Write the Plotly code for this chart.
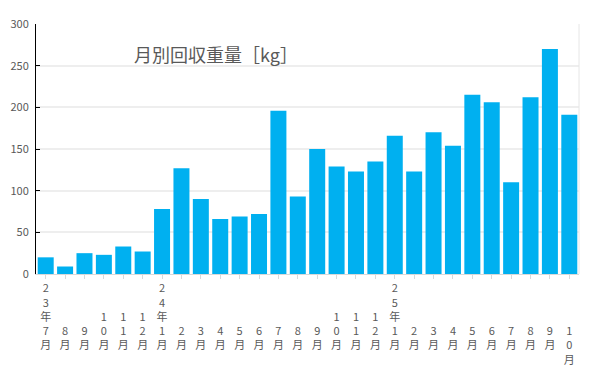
import plotly.graph_objects as go

months = ["23年7月", "8月", "9月", "10月", "11月", "12月",
          "24年1月", "2月", "3月", "4月", "5月", "6月", "7月", "8月", "9月", "10月", "11月", "12月",
          "25年1月", "2月", "3月", "4月", "5月", "6月", "7月", "8月", "9月", "10月"]
weights = [20, 9, 25, 23, 33, 27,
           78, 127, 90, 66, 69, 72, 196, 93, 150, 129, 123, 135,
           166, 123, 170, 154, 215, 206, 110, 212, 270, 191]
yticks = [0, 50, 100, 150, 200, 250, 300]
title_text = "月別回収重量［kg］"

# vertical (stacked) tick labels, bottom aligned like the original
def vertical(label, last=False):
    chars = list(label)
    pad = 3 if last else max(0, 5 - len(chars))
    return "<br>".join(["\u00a0"] * pad + chars)

x_idx = list(range(len(months)))
ticktext = [vertical(m, i == len(months) - 1) for i, m in enumerate(months)]

fig = go.Figure(go.Bar(x=x_idx, y=weights, marker=dict(color="#00B0F0", line=dict(width=0)),
                       hoverinfo="y"))

fig.update_layout(
    width=604, height=382,
    margin=dict(l=28, r=33, t=16, b=116),
    paper_bgcolor="white", plot_bgcolor="white",
    bargap=0.175,
    showlegend=False,
    font=dict(family="Noto Sans CJK JP", color="#595959"),
)
fig.update_xaxes(
    tickmode="array", tickvals=x_idx, ticktext=ticktext,
    range=[-0.5, len(months) - 0.5],
    tickangle=0, automargin=False,
    showline=True, linecolor="#D9D9D9", linewidth=1,
    ticks="outside", tickson="boundaries", ticklen=4, tickcolor="#D9D9D9",
    tickfont=dict(size=11, color="#595959"),
    showgrid=False, zeroline=False,
)
fig.update_yaxes(
    range=[0, 300], tickvals=yticks, automargin=False,
    showline=True, linecolor="black", linewidth=1,
    ticks="inside", ticklen=4, tickcolor="black",
    showgrid=True, gridcolor="#EEEEEE", gridwidth=2,
    zeroline=False,
    ticklabelstandoff=4,
    tickfont=dict(size=11, color="#595959"),
)
fig.add_shape(type="line", xref="paper", yref="paper", x0=1, x1=1, y0=0, y1=1,
              line=dict(color="#E6E6E6", width=1))
fig.add_annotation(text=title_text, xref="paper", yref="paper", x=0.177, y=0.88,
                   xanchor="left", yanchor="middle", showarrow=False,
                   font=dict(size=18, color="#595959", family="Noto Sans CJK JP"))

fig.write_html("out.html")
